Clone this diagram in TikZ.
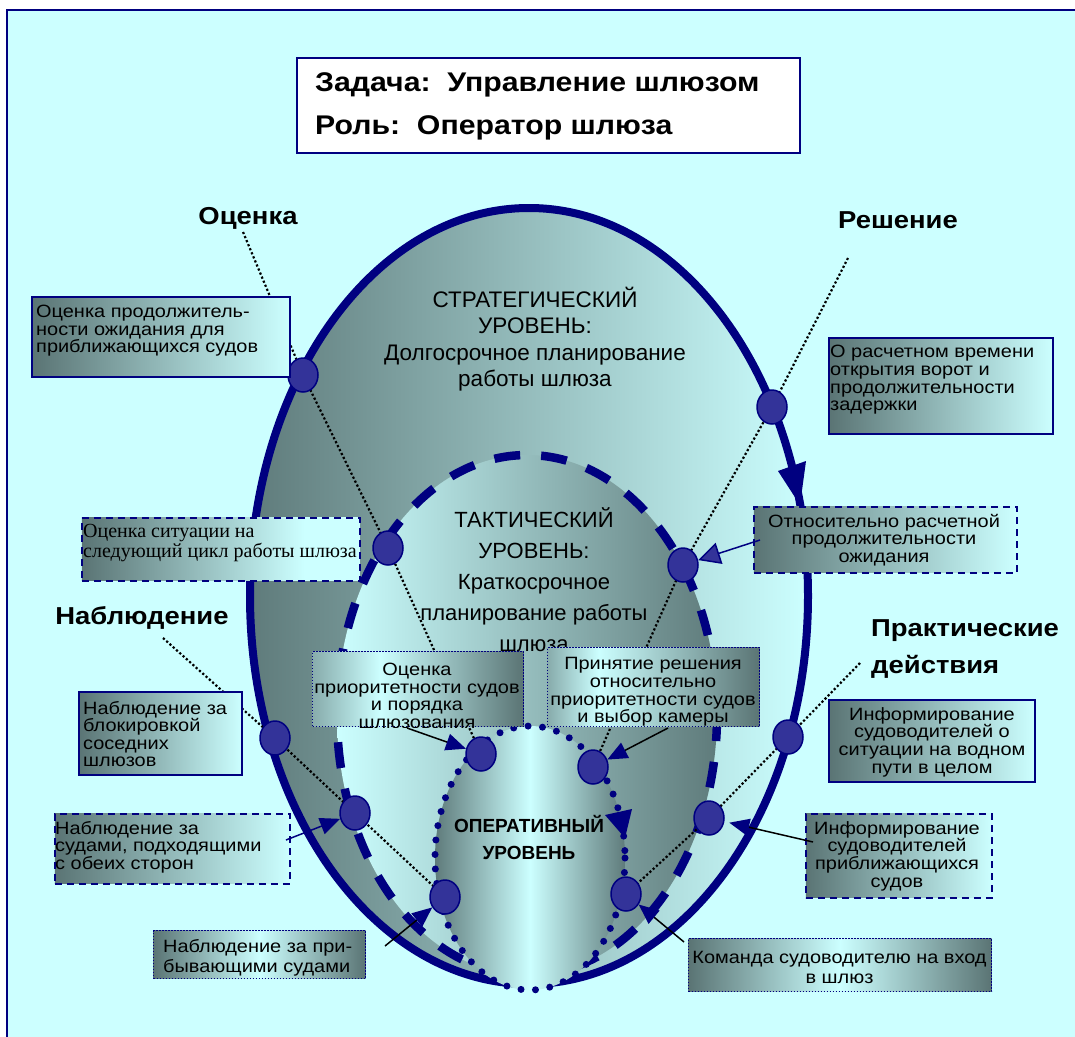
\documentclass[tikz,border=0pt]{standalone}
\usepackage{fontspec}
\setmainfont{Liberation Sans}
\newfontfamily\wfont[FakeStretch=1.12]{Liberation Sans}
\newfontfamily\timesfont{Liberation Serif}
\usetikzlibrary{arrows.meta,shapes.geometric}
\definecolor{bgcyan}{HTML}{CCFFFF}
\definecolor{navy}{HTML}{000080}
\definecolor{circfill}{HTML}{333399}
\definecolor{gdark}{HTML}{5F7B7B}
\definecolor{glight}{HTML}{CCFFFF}
\definecolor{bxd}{HTML}{5A7474}
\definecolor{bxl}{HTML}{CCFFFF}
\colorlet{bxm}{bxd!60!bxl}
\pgfdeclarehorizontalshading{dldmid}{100bp}{color(0bp)=(bxd); color(25bp)=(bxd); color(50bp)=(bxl); color(75bp)=(bxd); color(100bp)=(bxd)}
\pgfdeclarehorizontalshading{dldK}{100bp}{color(0bp)=(bxm); color(25bp)=(bxm); color(41bp)=(bxl); color(75bp)=(bxd); color(100bp)=(bxd)}
\pgfdeclarehorizontalshading{dldL}{100bp}{color(0bp)=(bxm); color(25bp)=(bxm); color(37bp)=(bxl); color(75bp)=(bxd); color(100bp)=(bxd)}
\pgfdeclarehorizontalshading{ldB}{100bp}{color(0bp)=(bxd); color(25bp)=(bxd); color(65bp)=(bxl); color(100bp)=(bxl)}
\newcommand\bxfont{\wfont\fontsize{17.8}{17.6}\selectfont}
\pgfdeclarelayer{back}
\pgfdeclarelayer{lines}
\pgfsetlayers{back,lines,main}
\begin{document}
\begin{tikzpicture}[x=1pt,y=-1pt,
  boxsolid/.style={draw=navy, line width=2pt, inner sep=0pt, anchor=north west},
  boxdash/.style={draw=navy, line width=1.6pt, dash pattern=on 7pt off 5pt, inner sep=0pt, anchor=north west},
  boxdot/.style={draw=navy, line width=1.3pt, dash pattern=on 1.3pt off 1.7pt, inner sep=0pt, anchor=north west},
  ldshade/.style={left color=bxd, right color=bxl},
  txt/.style={inner sep=0pt, font=\bxfont},
  dotline/.style={black, line width=2.2pt, dash pattern=on 2.2pt off 2.2pt},
  knot/.style={ellipse, draw=navy, fill=circfill, line width=1.5pt, minimum width=30pt, minimum height=34pt, inner sep=0pt},
  arrB/.style={black, line width=1.5pt, -{Triangle[length=20pt,width=17pt,color=navy]}},
  arrN/.style={navy, line width=1.5pt, -{Triangle[length=20pt,width=17pt,color=navy]}},
  arrO/.style={navy, line width=1.5pt, -{Triangle[length=22pt,width=22pt,fill=circfill,color=navy]}},
  lbl/.style={inner sep=0pt, font=\wfont\fontsize{24.5}{37}\selectfont\bfseries}
]
\useasboundingbox (0,0) rectangle (1075,1036);
\begin{pgfonlayer}{back}
\fill[white] (0,0) rectangle (1075,1036);
\draw[navy, line width=1.5pt, fill=bgcyan] (7,10) rectangle (1095,1050);
% title
\node[draw=navy, line width=2pt, fill=white, minimum width=503pt, minimum height=95pt, inner sep=0pt, anchor=north west] (title) at (296,57) {};
\node[inner sep=0pt, anchor=west, align=left, font=\wfont\fontsize{27}{43}\selectfont\bfseries] (ttitle) at (315,106.5) {Задача:\ \ Управление шлюзом\\Роль:\ \ Оператор шлюза};
% strategic
\draw[left color=gdark, right color=glight, draw=navy, line width=8pt] (529,596) ellipse [x radius=279, y radius=388];
\fill[navy] (778,471) -- (806,461) -- (800,505) -- cycle;
% tactical
\shade[left color=glight, right color=gdark] (527,715) ellipse [x radius=190, y radius=260];
\draw[navy, line width=8.5pt, dash pattern=on 26pt off 21pt] (527,715) ellipse [x radius=190, y radius=260];
% operative
\shade[left color=gdark, right color=gdark, middle color=glight] (530,858) ellipse [x radius=95, y radius=132];
\draw[navy, line width=7pt, line cap=round, dash pattern=on 0pt off 14.5pt] (530,858) ellipse [x radius=95, y radius=132];
\fill[navy] (605,815) -- (632,809) -- (625,838) -- cycle;
% level texts
\node[inner sep=0pt, align=center, font=\fontsize{22.5}{26.5}\selectfont] (tstrat) at (535,339) {СТРАТЕГИЧЕСКИЙ\\УРОВЕНЬ:\\Долгосрочное планирование\\работы шлюза};
\node[inner sep=0pt, align=center, font=\fontsize{22}{31}\selectfont] (ttact) at (534,580) {ТАКТИЧЕСКИЙ\\УРОВЕНЬ:\\Краткосрочное\\планирование работы\\шлюза};
\node[inner sep=0pt, align=center, font=\fontsize{19}{27}\selectfont\bfseries] (toper) at (529,837) {ОПЕРАТИВНЫЙ\\УРОВЕНЬ};
% phase labels
\node[lbl] (lOc) at (248,218) {Оценка};
\node[lbl] (lRe) at (898,220) {Решение};
\node[lbl] (lNa) at (142,618) {Наблюдение};
\node[lbl, anchor=west, align=left] (lPr) at (871,649.5) {Практические\\действия};
\end{pgfonlayer}

% circles
\node[knot] (c1) at (303,375) {};
\node[knot] (c2) at (388,548) {};
\node[knot] (c3) at (481,754) {};
\node[knot] (c4) at (772,407) {};
\node[knot] (c5) at (683,565) {};
\node[knot] (c6) at (593,767) {};
\node[knot] (c7) at (275,738) {};
\node[knot] (c8) at (355,813) {};
\node[knot] (c9) at (445,897) {};
\node[knot] (c10) at (788,737) {};
\node[knot] (c11) at (709,818) {};
\node[knot] (c12) at (626,894) {};

\coordinate (oS) at (243,232);
\coordinate (rS) at (848,258);
\coordinate (nS) at (163,638);
\coordinate (pS) at (860,663);
\begin{pgfonlayer}{lines}
\draw[dotline] (oS) -- (c1.center) -- (c2.center) -- (c3.center);
\draw[dotline] (rS) -- (c4.center) -- (c5.center) -- (c6.center);
\draw[dotline] (nS) -- (c7.center) -- (c8.center) -- (c9.center);
\draw[dotline] (pS) -- (c10.center) -- (c11.center) -- (c12.center);
\end{pgfonlayer}

% boxes
\node[boxsolid, ldshade, minimum width=258pt, minimum height=80pt] (bA) at (31,296) {};
\node[txt, anchor=west, align=left] (tA) at (36,331) {Оценка продолжитель-\\ности ожидания для\\приближающихся судов};
\node[boxdash, shade, shading=ldB, minimum width=278pt, minimum height=63pt] (bB) at (81,517) {};
\node[inner sep=0pt, anchor=west, align=left, font=\timesfont\fontsize{20}{17}\selectfont] (tB) at (83,543) {Оценка ситуации на\\следующий цикл работы шлюза};
\node[boxsolid, ldshade, minimum width=224pt, minimum height=96pt] (bC) at (828,337) {};
\node[txt, anchor=west, align=left] (tC) at (830,380) {О расчетном времени\\открытия ворот и\\продолжительности\\задержки};
\node[boxdash, ldshade, minimum width=263pt, minimum height=66pt] (bD) at (753,506) {};
\node[txt, align=center] (tD) at (884,540) {Относительно расчетной\\продолжительности\\ожидания};
\node[boxsolid, ldshade, minimum width=163pt, minimum height=83pt] (bE) at (78,691) {};
\node[txt, anchor=west, align=left] (tE) at (83,734) {Наблюдение за\\блокировкой\\соседних\\шлюзов};
\node[boxdash, ldshade, minimum width=235pt, minimum height=70pt] (bF) at (54,813) {};
\node[txt, anchor=west, align=left] (tF) at (55,847) {Наблюдение за\\судами, подходящими\\с обеих сторон};
\node[boxdot, shade, shading=dldmid, minimum width=212pt, minimum height=48pt] (bG) at (153,930) {};
\node[inner sep=0pt, anchor=west, align=left, font=\wfont\fontsize{17.8}{20}\selectfont] (tG) at (163,958) {Наблюдение за при-\\бывающими судами};
\node[boxsolid, ldshade, minimum width=206pt, minimum height=82pt] (bH) at (828,699) {};
\node[txt, align=center] (tH) at (932,742) {Информирование\\судоводителей о\\ситуации на водном\\пути в целом};
\node[boxdash, ldshade, minimum width=186pt, minimum height=84pt] (bI) at (805,813) {};
\node[txt, align=center] (tI) at (897,856) {Информирование\\судоводителей\\приближающихся\\судов};
\node[boxdot, shade, shading=dldmid, minimum width=303pt, minimum height=53pt] (bJ) at (688,938) {};
\node[inner sep=0pt, align=center, font=\wfont\fontsize{17.8}{20}\selectfont] (tJ) at (839.5,967) {Команда судоводителю на вход\\в шлюз};
\node[boxdot, shade, shading=dldK, minimum width=211pt, minimum height=75pt] (bK) at (312,651) {};
\begin{scope}
\clip (bK.south west) rectangle (bK.north east);
\node[txt, align=center] (tK) at (417,696) {Оценка\\приоритетности судов\\и порядка\\шлюзования};
\end{scope}
\node[boxdot, shade, shading=dldL, minimum width=212pt, minimum height=79pt] (bL) at (547,647) {};
\begin{scope}
\clip (bL.south west) rectangle (bL.north east);
\node[txt, align=center] (tL) at (653,692) {Принятие решения\\относительно\\приоритетности судов\\и выбор камеры};
\end{scope}

% arrows
\coordinate (aD) at (760,540);
\coordinate (aF) at (286,840);
\coordinate (aK) at (407,728);
\coordinate (aL) at (668,728);
\coordinate (aG) at (385,946);
\coordinate (aJ) at (684,942);
\coordinate (aI) at (813,842);
\draw[arrO] (aD) -- (c5);
\draw[arrN] (aF) -- (c8);
\draw[arrB] (aK) -- (c3);
\draw[arrB] (aL) -- (c6);
\draw[arrB] (aG) -- (c9);
\draw[arrB] (aJ) -- (c12);
\draw[arrB, shorten >=5pt] (aI) -- (c11);
\end{tikzpicture}
\end{document}
